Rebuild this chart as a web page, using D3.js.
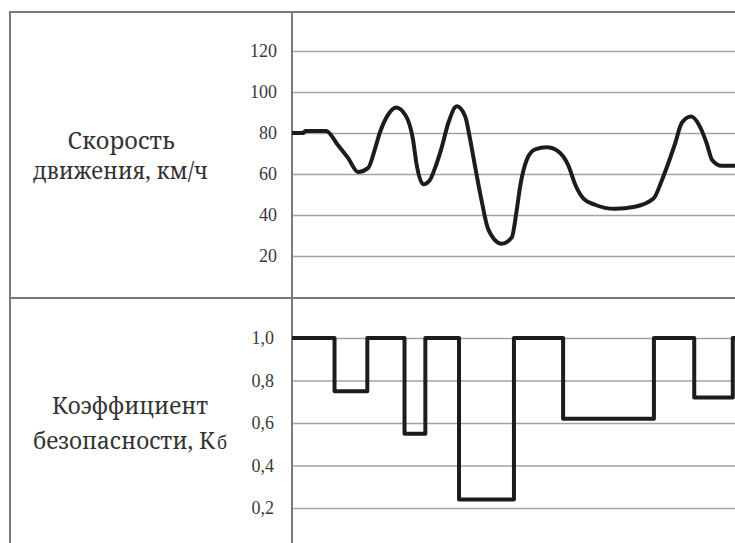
<!DOCTYPE html>
<html><head><meta charset="utf-8">
<script src="https://cdn.jsdelivr.net/npm/d3@7"></script>
<style>
html,body{margin:0;padding:0;background:#fff;}
svg{display:block;}
</style></head>
<body>
<svg id="chart" width="735" height="543"></svg>
<script>
// ---- data ----
const speedX = [0, 2.5, 3, 7.7, 10.4, 12.6, 14.9, 17.2, 18.7, 19.8, 21.7, 23.5, 25.8, 27.3, 28.1, 29.6, 31.1, 32.3, 33.8, 35.3, 37.2, 39.1, 40.2, 41.3, 42.8, 44.3, 47.3, 49.6, 50.7, 51.5, 53.0, 54.9, 57.5, 60.1, 62.4, 63.9, 65.8, 68.4, 72.9, 77.4, 81.6, 83.5, 84.9, 86.5, 88.0, 90.1, 92.1, 93.6, 94.8, 97.0, 100];
const speedV = [80, 80, 81, 81, 74, 68, 61, 63, 72, 80, 89, 92.5, 88, 77, 65, 55, 57, 63, 73, 85, 93, 88, 77, 64, 47, 33, 26, 29, 42, 54, 67, 72, 73, 71, 64, 55, 48, 45, 43, 44, 48, 57, 65, 75, 85, 88, 83, 75, 67, 64, 64];
const safetyX = [0, 9.6, 17.0, 25.4, 30.1, 37.7, 50.1, 61.2, 81.7, 90.8, 99.5, 100];
const safetyV = [1.0, 0.75, 1.0, 0.55, 1.0, 0.24, 1.0, 0.62, 1.0, 0.72, 1.0, 1.0];
const speedTicks = [20, 40, 60, 80, 100, 120];
const safetyTicks = [0.2, 0.4, 0.6, 0.8, 1.0];
const safetyTickLabels = ["0,2", "0,4", "0,6", "0,8", "1,0"];
const topLabel = ["Скорость", "движения, км/ч"];
const bottomLabel = ["Коэффициент", "безопасности, К", "б"];

// ---- layout ----
const W = 735, H = 543;
const frameL = 10, frameT = 12, divX = 292, sepY = 298;
const labelFont = '"Noto Serif", "Liberation Serif", serif';
const tickFont = '"Liberation Serif", "Noto Serif", serif';
const svg = d3.select("#chart");

const x = d3.scaleLinear().domain([0, 100]).range([divX, W]);
const yTop = d3.scaleLinear().domain([0, 120]).range([297, 51]);
const yBot = d3.scaleLinear().domain([0, 1]).range([550.5, 338]);

svg.append("defs").append("clipPath").attr("id", "clip")
  .append("rect").attr("x", divX).attr("y", frameT).attr("width", W - divX).attr("height", H - frameT);

function gridAxis(scale, ticks, fmt, pad) {
  return d3.axisLeft(scale).tickValues(ticks).tickFormat(fmt)
    .tickSizeInner(-(W - divX)).tickSizeOuter(0).tickPadding(pad);
}

const gTop = svg.append("g").attr("transform", `translate(${divX},0)`)
  .call(gridAxis(yTop, speedTicks, d => d, 15));
const gBot = svg.append("g").attr("transform", `translate(${divX},0)`)
  .call(gridAxis(yBot, safetyTicks, (d, i) => safetyTickLabels[i], 18));
[gTop, gBot].forEach(g => {
  g.select(".domain").remove();
  g.selectAll(".tick line").attr("stroke", "#a3a3a3").attr("stroke-width", 1.5);
  g.selectAll(".tick text").attr("font-size", 18).attr("fill", "#3a3a3a")
    .style("font-family", tickFont);
});

// frame
const frame = svg.append("g").attr("stroke", "#7a7a7a").attr("stroke-width", 2).attr("fill", "none");
frame.append("line").attr("x1", frameL).attr("x2", frameL).attr("y1", frameT - 1).attr("y2", H);
frame.append("line").attr("x1", frameL - 1).attr("x2", W).attr("y1", frameT).attr("y2", frameT);
frame.append("line").attr("x1", divX).attr("x2", divX).attr("y1", frameT).attr("y2", H);
frame.append("line").attr("x1", frameL).attr("x2", W).attr("y1", sepY).attr("y2", sepY);

// speed line
const speedData = speedX.map((v, i) => [v, speedV[i]]);
svg.append("path").datum(speedData)
  .attr("clip-path", "url(#clip)")
  .attr("fill", "none").attr("stroke", "#1c1c1c").attr("stroke-width", 4)
  .attr("stroke-linejoin", "round")
  .attr("d", d3.line().x(d => x(d[0])).y(d => yTop(d[1])).curve(d3.curveMonotoneX));

// safety step line
const safetyData = safetyX.map((v, i) => [v, safetyV[i]]);
svg.append("path").datum(safetyData)
  .attr("clip-path", "url(#clip)")
  .attr("fill", "none").attr("stroke", "#1c1c1c").attr("stroke-width", 4)
  .attr("stroke-linejoin", "round")
  .attr("d", d3.line().x(d => x(d[0])).y(d => yBot(d[1])).curve(d3.curveStepAfter));

// labels
function label(xp, y, w, anchor, size) {
  return svg.append("text").attr("x", xp).attr("y", y).attr("text-anchor", anchor)
    .attr("font-size", size).attr("fill", "#333").style("font-family", labelFont)
    .attr("textLength", w).attr("lengthAdjust", "spacingAndGlyphs");
}
label(121, 149, 107, "middle", 23).text(topLabel[0]);
label(120.5, 179, 175, "middle", 23).text(topLabel[1]);
label(130, 414, 156, "middle", 23).text(bottomLabel[0]);
label(33, 449, 182, "start", 23).text(bottomLabel[1]);
label(217, 449, 10, "start", 18).text(bottomLabel[2]);
</script>
</body></html>
